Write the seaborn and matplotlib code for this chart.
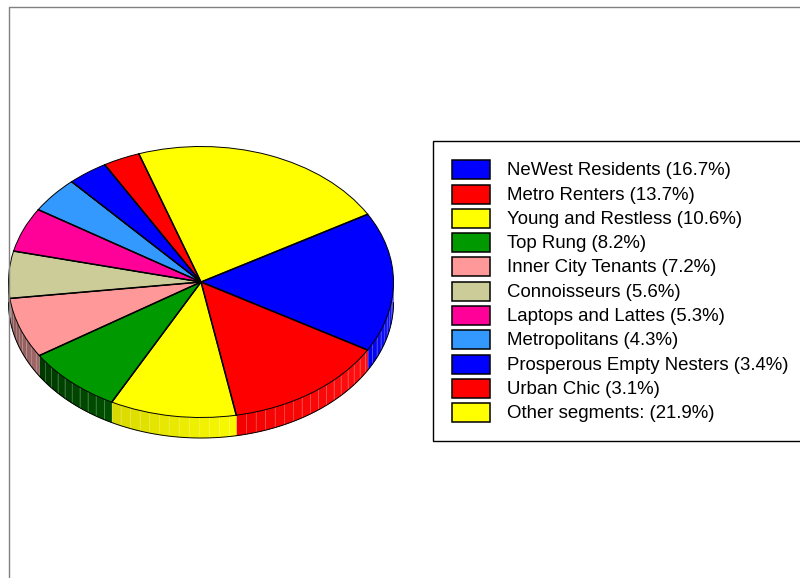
import numpy as np
import matplotlib
matplotlib.use("Agg")
import matplotlib.pyplot as plt
from matplotlib.patches import Rectangle
import seaborn as sns

segments = ["NeWest Residents", "Metro Renters", "Young and Restless", "Top Rung",
            "Inner City Tenants", "Connoisseurs", "Laptops and Lattes", "Metropolitans",
            "Prosperous Empty Nesters", "Urban Chic", "Other segments:"]
shares = [16.7, 13.7, 10.6, 8.2, 7.2, 5.6, 5.3, 4.3, 3.4, 3.1, 21.9]
colors = ["#0000ff", "#ff0000", "#ffff00", "#009900", "#ff9999", "#cccc99",
          "#ff0099", "#3399ff", "#0000ff", "#ff0000", "#ffff00"]

# side wall shades, left end and right end of each slice
wall_left = ["#0000f0", "#f40000", "#d8d800", "#003800", "#875555", "#6e6950",
             "#800050", "#1c5080", "#000080", "#800000", "#808000"]
wall_right = ["#2020ff", "#ff1010", "#fafa00", "#005000", "#a06868", "#6e6950",
              "#800050", "#1c5080", "#000080", "#800000", "#808000"]

W, H = 800, 578
CX, CY, RX, RY = 201, 282, 192.5, 135.5
DEPTH = 20.5 / RY
START = 30

sns.set_theme(style="white")
plt.rcParams["font.family"] = ["Liberation Sans", "DejaVu Sans"]
palette = sns.color_palette(colors)

fig = plt.figure(figsize=(W / 100, H / 100), dpi=100)

# pixel axes for the outer frame and the legend
ax_px = fig.add_axes([0, 0, 1, 1])
ax_px.set_xlim(0, W)
ax_px.set_ylim(H, 0)
ax_px.axis("off")
ax_px.plot([9.0, 9.0, W], [H, 6.5, 6.5], color="#808080", lw=1.0)

ax = fig.add_axes([0, 0, 1, 1], facecolor="none")
ax.pie(shares, colors=palette, startangle=START, counterclock=False, radius=1,
       wedgeprops=dict(edgecolor="black", linewidth=0.7, zorder=5))
ax.set_aspect("auto")
ax.set_xlim(-CX / RX, (W - CX) / RX)
ax.set_ylim((CY - H) / RY, CY / RY)
ax.axis("off")

edges = START - np.cumsum([0] + shares) * 3.6

# heavier radial lines on the top face
for e in edges[:-1]:
    ax.plot([0, np.cos(np.radians(e))], [0, np.sin(np.radians(e))], color="black", lw=1.1, zorder=6)

# side wall of the lower half
for i in range(len(shares)):
    a0, a1 = max(edges[i + 1], -180), min(edges[i], 0)
    if a1 <= a0:
        continue
    c0 = np.array(matplotlib.colors.to_rgb(wall_left[i]))
    c1 = np.array(matplotlib.colors.to_rgb(wall_right[i]))
    steps = np.append(np.arange(a0, a1, 3.0), a1)
    for s0, s1 in zip(steps[:-1], steps[1:]):
        t = np.radians(np.linspace(s0, s1, 5))
        x = np.cos(t)
        y = np.sin(t)
        f = (0.5 * (s0 + s1) - a0) / (a1 - a0)
        shade = c0 + (c1 - c0) * f
        ax.fill(np.r_[x, x[::-1]], np.r_[y, y[::-1] - DEPTH],
                facecolor=shade, edgecolor=shade, lw=0.3, zorder=1)
        ax.plot([x[-1], x[-1]], [y[-1], y[-1] - DEPTH], color="white", lw=0.5, alpha=0.3, zorder=2)
    t = np.radians(np.linspace(a0, a1, 60))
    ax.plot(np.cos(t), np.sin(t) - DEPTH, color="black", lw=0.7, zorder=3)

# legend
ax_px.set_zorder(ax.get_zorder() + 1)
ax_px.patch.set_visible(False)
ax_px.add_patch(Rectangle((433.2, 141.2), W, 300, facecolor="white", edgecolor="black", lw=1.0))
for i, (name, share) in enumerate(zip(segments, shares)):
    yc = 169.7 + i * 24.3
    ax_px.add_patch(Rectangle((452, yc - 9.5), 38, 19, facecolor=palette[i], edgecolor="black", lw=1.1))
    ax_px.text(507, yc + 1, f"{name} ({share}%)", fontsize=13.4, color="black", ha="left", va="center")

fig.savefig("out.png", dpi=100)
